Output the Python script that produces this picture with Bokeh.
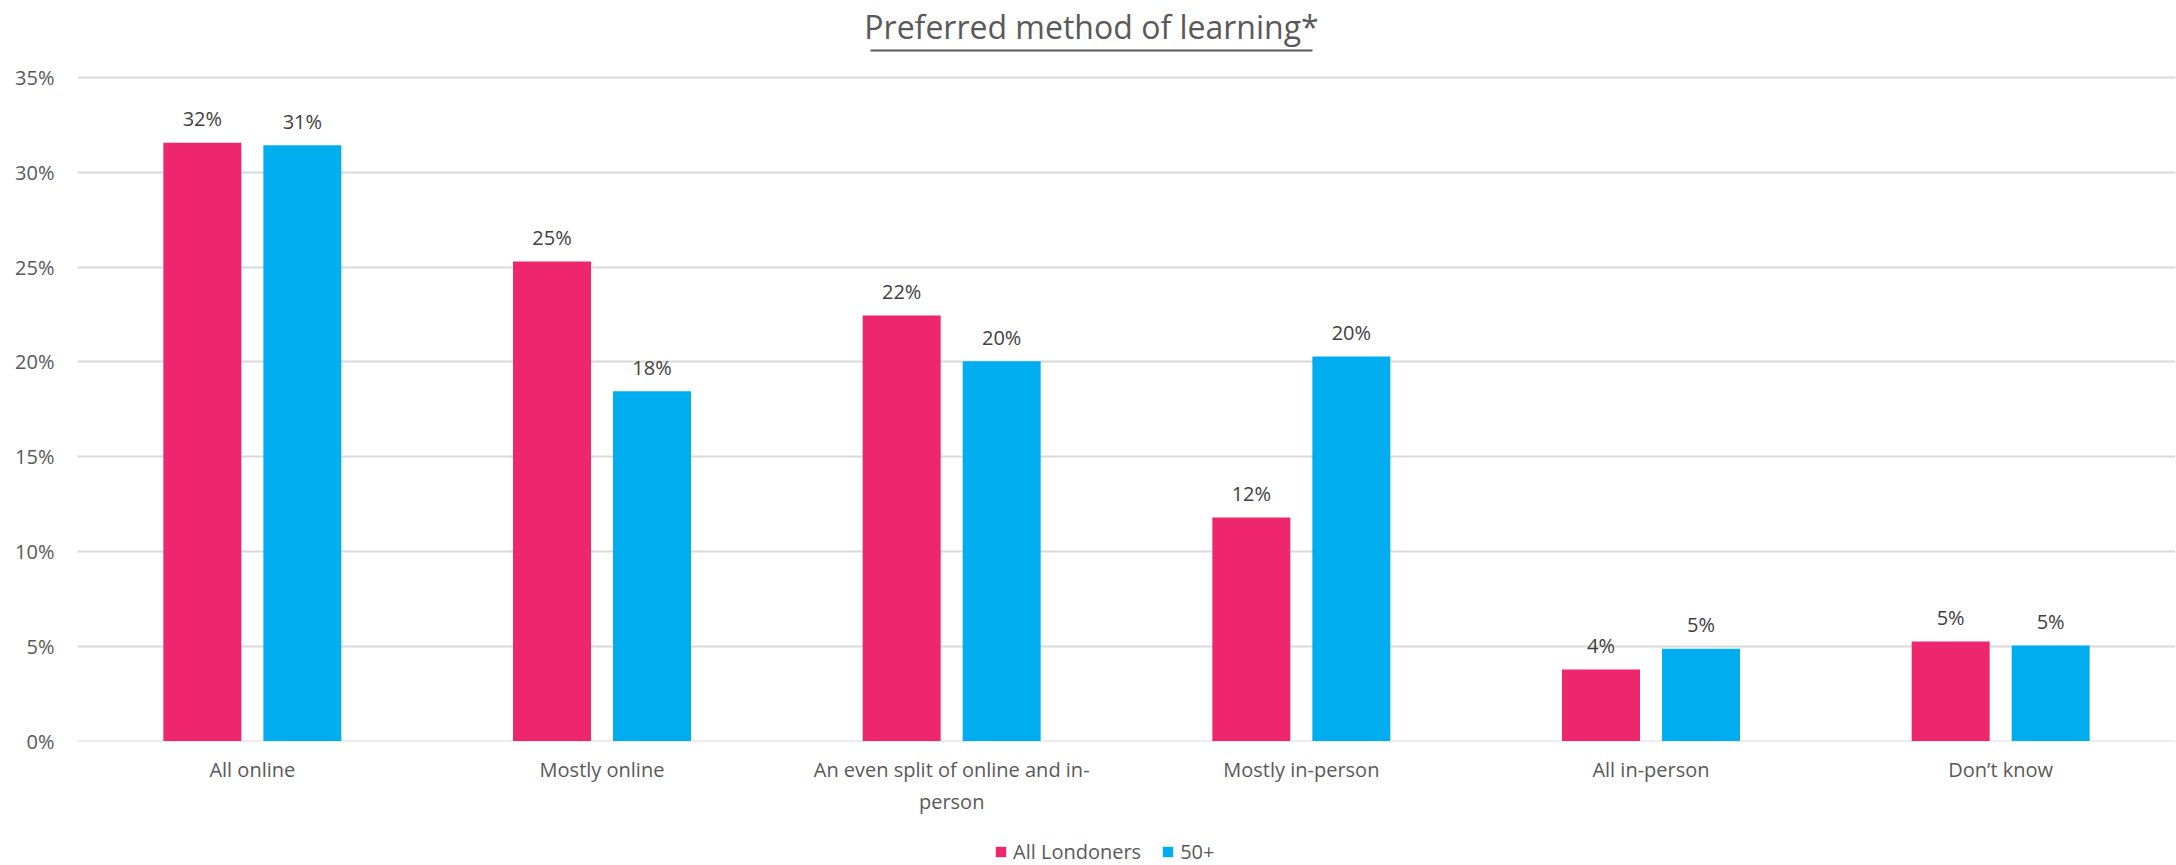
from bokeh.plotting import figure
from bokeh.layouts import column
from bokeh.models import (ColumnDataSource, FactorRange, Range1d, FixedTicker,
                          Legend, LegendItem, BoxAnnotation, Label)
from bokeh.transform import dodge
from bokeh.core.properties import value
from bokeh.embed import file_html
from bokeh.resources import INLINE

# ---- data ----
categories = ["All online", "Mostly online", "An even split of online and in-\nperson",
              "Mostly in-person", "All in-person", "Don\u2019t know"]
all_londoners = [31.56, 25.30, 22.45, 11.79, 3.78, 5.26]
over_50 = [31.43, 18.45, 20.03, 20.29, 4.87, 5.04]
series_names = ["All Londoners", "50+"]
y_ticks = [0, 5, 10, 15, 20, 25, 30, 35]
y_tick_labels = ["0%", "5%", "10%", "15%", "20%", "25%", "30%", "35%"]
title_text = "Preferred method of learning*"

RED = "#EE266D"
BLUE = "#00AEEF"
TXT = "#595959"
FONT = "Open Sans"

# layout constants (pixels)
W = 2176
MAIN_H = 831
LEG_H = 34
FRAME_TOP_PAD = 77      # space in frame above the 35% gridline (holds the title)
FRAME_H = 741           # frame height in px

src = ColumnDataSource(dict(
    cat=categories,
    a=all_londoners,
    b=over_50,
    a_lbl=[f"{round(v)}%" for v in all_londoners],
    b_lbl=[f"{round(v)}%" for v in over_50],
))

y_top = y_ticks[-1] * FRAME_H / (FRAME_H - FRAME_TOP_PAD)

p = figure(width=W, height=MAIN_H, output_backend="svg", toolbar_location=None,
           x_range=FactorRange(*categories, range_padding=0),
           y_range=Range1d(-0.02, y_top),
           min_border_left=77, min_border_right=1, min_border_top=0,
           min_border_bottom=MAIN_H - FRAME_H)

p.outline_line_color = None
p.background_fill_color = "white"
p.border_fill_color = "white"

bw = 0.223
off = 0.143
ra = p.vbar(x=dodge("cat", -off, range=p.x_range), top="a", width=bw, bottom=0,
            source=src, fill_color=RED, line_color=None)
rb = p.vbar(x=dodge("cat", off, range=p.x_range), top="b", width=bw, bottom=0,
            source=src, fill_color=BLUE, line_color=None)

for col, lbl, d in (("a", "a_lbl", -off), ("b", "b_lbl", off)):
    p.text(x=dodge("cat", d, range=p.x_range), y=col, text=lbl, source=src,
           text_align="center", text_baseline="middle", y_offset=-24,
           text_font=value(FONT), text_font_size="20px", text_color="#404040")

# axes
p.yaxis.ticker = FixedTicker(ticks=y_ticks)
p.yaxis.major_label_overrides = {t: l for t, l in zip(y_ticks, y_tick_labels)}
p.yaxis.axis_line_color = None
p.yaxis.major_tick_line_color = None
p.yaxis.minor_tick_line_color = None
p.yaxis.major_label_text_font = FONT
p.yaxis.major_label_text_font_size = "20px"
p.yaxis.major_label_text_color = TXT
p.yaxis.major_label_standoff = 17

p.xaxis.axis_line_color = None
p.xaxis.major_tick_line_color = None
p.xaxis.minor_tick_line_color = None
p.xaxis.major_label_text_font = FONT
p.xaxis.major_label_text_font_size = "20px"
p.xaxis.major_label_text_color = TXT
p.xaxis.major_label_standoff = 8

p.xgrid.grid_line_color = None
p.ygrid.grid_line_color = "#D9D9D9"
p.ygrid.grid_line_width = 2

# title (inside the top part of the frame) with underline
p.add_layout(Label(x=1014, y=FRAME_H - 26, x_units="screen", y_units="screen",
                   text=title_text, text_align="center", text_baseline="alphabetic",
                   text_font=FONT, text_font_size="32px", text_color=TXT))
p.add_layout(BoxAnnotation(left=793, right=1235, top=FRAME_H - 49, bottom=FRAME_H - 51,
                           left_units="screen", right_units="screen",
                           top_units="screen", bottom_units="screen",
                           fill_color=TXT, fill_alpha=1, line_color=None))

# ---- legend strip (separate small figure; its zero-size bars only feed the legend) ----
lg = figure(width=W, height=LEG_H, output_backend="svg", toolbar_location=None,
            x_range=Range1d(100, 101), y_range=Range1d(0, 1),
            min_border=0, x_axis_location=None, y_axis_location=None)
lg.outline_line_color = None
lg.grid.visible = False
la = lg.vbar(x="a", top=0, bottom=0, width=0, source=src, fill_color=RED, line_color=None)
lb = lg.vbar(x="b", top=0, bottom=0, width=0, source=src, fill_color=BLUE, line_color=None)
legend = Legend(items=[LegendItem(label=series_names[0], renderers=[la], index=0),
                       LegendItem(label=series_names[1], renderers=[lb], index=0)],
                orientation="horizontal", location=(917, 0),
                label_text_font=FONT, label_text_font_size="20px",
                label_text_color=TXT, glyph_width=13, glyph_height=13,
                label_standoff=6, spacing=20, border_line_color=None,
                background_fill_alpha=0, padding=0, margin=0)
lg.add_layout(legend, "center")

open("out.html", "w").write(file_html(column(p, lg, spacing=0), INLINE))
